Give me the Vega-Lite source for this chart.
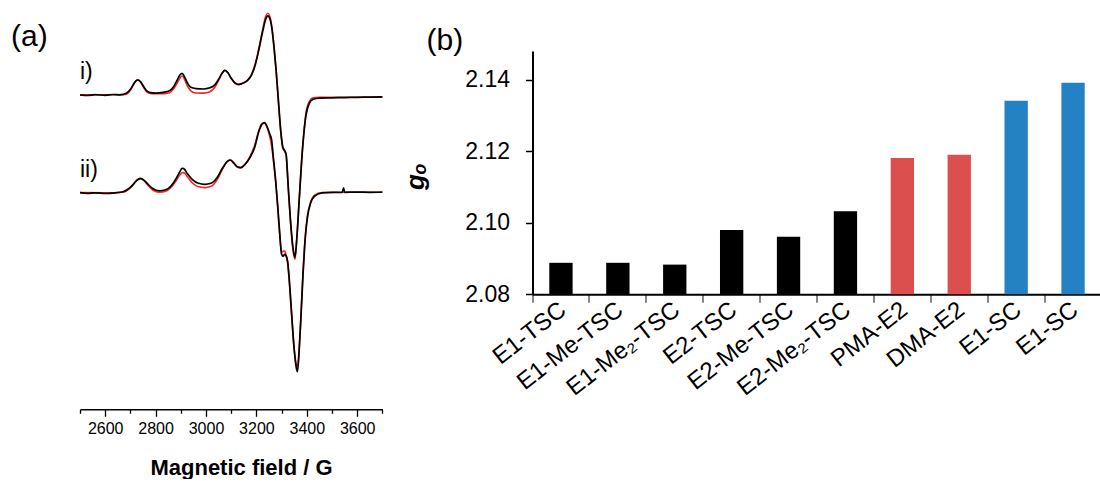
{
 "$schema": "https://vega.github.io/schema/vega-lite/v6.json",
 "background": "white",
 "padding": {"left": 10, "top": 10, "right": 0, "bottom": 0},
 "config": {
  "view": {"stroke": null},
  "font": "Liberation Sans",
  "axis": {"labelColor": "black", "titleColor": "black", "domainColor": "black", "tickColor": "black", "grid": false},
  "title": {"color": "black", "fontWeight": "normal", "fontSize": 30, "anchor": "start", "frame": "group"}
 },
 "datasets": {
  "spectra": [
   {"trace":"i","curve":"experimental","B":2500,"I":314.3},{"trace":"i","curve":"experimental","B":2530,"I":313.8},{"trace":"i","curve":"experimental","B":2560,"I":314.6},{"trace":"i","curve":"experimental","B":2600,"I":314.0},{"trace":"i","curve":"experimental","B":2630,"I":314.8},{"trace":"i","curve":"experimental","B":2660,"I":314.4},{"trace":"i","curve":"experimental","B":2685,"I":316.2},{"trace":"i","curve":"experimental","B":2700,"I":320},{"trace":"i","curve":"experimental","B":2712,"I":325},{"trace":"i","curve":"experimental","B":2722,"I":328.5},{"trace":"i","curve":"experimental","B":2730,"I":329.3},{"trace":"i","curve":"experimental","B":2740,"I":327.5},{"trace":"i","curve":"experimental","B":2752,"I":323},{"trace":"i","curve":"experimental","B":2765,"I":318.5},{"trace":"i","curve":"experimental","B":2780,"I":316.7},{"trace":"i","curve":"experimental","B":2800,"I":316.2},{"trace":"i","curve":"experimental","B":2830,"I":317},{"trace":"i","curve":"experimental","B":2855,"I":318.5},{"trace":"i","curve":"experimental","B":2870,"I":322},{"trace":"i","curve":"experimental","B":2885,"I":329},{"trace":"i","curve":"experimental","B":2897,"I":334.5},{"trace":"i","curve":"experimental","B":2905,"I":336},{"trace":"i","curve":"experimental","B":2915,"I":332.5},{"trace":"i","curve":"experimental","B":2925,"I":327},{"trace":"i","curve":"experimental","B":2940,"I":322},{"trace":"i","curve":"experimental","B":2960,"I":320.7},{"trace":"i","curve":"experimental","B":2990,"I":320.3},{"trace":"i","curve":"experimental","B":3015,"I":321.5},{"trace":"i","curve":"experimental","B":3035,"I":324.5},{"trace":"i","curve":"experimental","B":3050,"I":330},{"trace":"i","curve":"experimental","B":3065,"I":336.5},{"trace":"i","curve":"experimental","B":3075,"I":339},{"trace":"i","curve":"experimental","B":3087,"I":336.5},{"trace":"i","curve":"experimental","B":3100,"I":331},{"trace":"i","curve":"experimental","B":3115,"I":326.5},{"trace":"i","curve":"experimental","B":3130,"I":325},{"trace":"i","curve":"experimental","B":3150,"I":326.5},{"trace":"i","curve":"experimental","B":3165,"I":329},{"trace":"i","curve":"experimental","B":3180,"I":334},{"trace":"i","curve":"experimental","B":3195,"I":344},{"trace":"i","curve":"experimental","B":3210,"I":360},{"trace":"i","curve":"experimental","B":3225,"I":378},{"trace":"i","curve":"experimental","B":3237,"I":390},{"trace":"i","curve":"experimental","B":3245,"I":393.5},{"trace":"i","curve":"experimental","B":3253,"I":391},{"trace":"i","curve":"experimental","B":3262,"I":380},{"trace":"i","curve":"experimental","B":3270,"I":362},{"trace":"i","curve":"experimental","B":3278,"I":340},{"trace":"i","curve":"experimental","B":3287,"I":310},{"trace":"i","curve":"experimental","B":3297,"I":278},{"trace":"i","curve":"experimental","B":3305,"I":262},{"trace":"i","curve":"experimental","B":3312,"I":259},{"trace":"i","curve":"experimental","B":3318,"I":255},{"trace":"i","curve":"experimental","B":3326,"I":224},{"trace":"i","curve":"experimental","B":3335,"I":190},{"trace":"i","curve":"experimental","B":3345,"I":162},{"trace":"i","curve":"experimental","B":3353,"I":152},{"trace":"i","curve":"experimental","B":3360,"I":170},{"trace":"i","curve":"experimental","B":3370,"I":210},{"trace":"i","curve":"experimental","B":3383,"I":260},{"trace":"i","curve":"experimental","B":3396,"I":293},{"trace":"i","curve":"experimental","B":3410,"I":306},{"trace":"i","curve":"experimental","B":3425,"I":310},{"trace":"i","curve":"experimental","B":3450,"I":311.2},{"trace":"i","curve":"experimental","B":3500,"I":311.5},{"trace":"i","curve":"experimental","B":3550,"I":311.7},{"trace":"i","curve":"experimental","B":3600,"I":312},{"trace":"i","curve":"experimental","B":3650,"I":312.2},{"trace":"i","curve":"experimental","B":3700,"I":312.5},
   {"trace":"i","curve":"simulated","B":2500,"I":314.5},{"trace":"i","curve":"simulated","B":2600,"I":314.5},{"trace":"i","curve":"simulated","B":2680,"I":314.8},{"trace":"i","curve":"simulated","B":2700,"I":319},{"trace":"i","curve":"simulated","B":2712,"I":324.5},{"trace":"i","curve":"simulated","B":2722,"I":328.5},{"trace":"i","curve":"simulated","B":2730,"I":329.5},{"trace":"i","curve":"simulated","B":2740,"I":327.5},{"trace":"i","curve":"simulated","B":2752,"I":322},{"trace":"i","curve":"simulated","B":2765,"I":317.5},{"trace":"i","curve":"simulated","B":2780,"I":315.8},{"trace":"i","curve":"simulated","B":2800,"I":315.5},{"trace":"i","curve":"simulated","B":2830,"I":315.6},{"trace":"i","curve":"simulated","B":2855,"I":316.5},{"trace":"i","curve":"simulated","B":2870,"I":320},{"trace":"i","curve":"simulated","B":2885,"I":326},{"trace":"i","curve":"simulated","B":2897,"I":331.5},{"trace":"i","curve":"simulated","B":2905,"I":333.3},{"trace":"i","curve":"simulated","B":2915,"I":330},{"trace":"i","curve":"simulated","B":2925,"I":324},{"trace":"i","curve":"simulated","B":2940,"I":318.5},{"trace":"i","curve":"simulated","B":2960,"I":316.3},{"trace":"i","curve":"simulated","B":2990,"I":316.2},{"trace":"i","curve":"simulated","B":3015,"I":317.5},{"trace":"i","curve":"simulated","B":3035,"I":322},{"trace":"i","curve":"simulated","B":3050,"I":329},{"trace":"i","curve":"simulated","B":3065,"I":336.5},{"trace":"i","curve":"simulated","B":3075,"I":339},{"trace":"i","curve":"simulated","B":3087,"I":336.5},{"trace":"i","curve":"simulated","B":3100,"I":331},{"trace":"i","curve":"simulated","B":3115,"I":326},{"trace":"i","curve":"simulated","B":3130,"I":324.5},{"trace":"i","curve":"simulated","B":3150,"I":326.5},{"trace":"i","curve":"simulated","B":3165,"I":329},{"trace":"i","curve":"simulated","B":3180,"I":334.5},{"trace":"i","curve":"simulated","B":3195,"I":345},{"trace":"i","curve":"simulated","B":3210,"I":361},{"trace":"i","curve":"simulated","B":3225,"I":380},{"trace":"i","curve":"simulated","B":3237,"I":393},{"trace":"i","curve":"simulated","B":3245,"I":396},{"trace":"i","curve":"simulated","B":3253,"I":393},{"trace":"i","curve":"simulated","B":3262,"I":381},{"trace":"i","curve":"simulated","B":3270,"I":362},{"trace":"i","curve":"simulated","B":3278,"I":339},{"trace":"i","curve":"simulated","B":3287,"I":308},{"trace":"i","curve":"simulated","B":3297,"I":276},{"trace":"i","curve":"simulated","B":3305,"I":261},{"trace":"i","curve":"simulated","B":3312,"I":258},{"trace":"i","curve":"simulated","B":3318,"I":254},{"trace":"i","curve":"simulated","B":3326,"I":223},{"trace":"i","curve":"simulated","B":3335,"I":188},{"trace":"i","curve":"simulated","B":3345,"I":160},{"trace":"i","curve":"simulated","B":3353,"I":150},{"trace":"i","curve":"simulated","B":3360,"I":169},{"trace":"i","curve":"simulated","B":3370,"I":210},{"trace":"i","curve":"simulated","B":3383,"I":261},{"trace":"i","curve":"simulated","B":3396,"I":295},{"trace":"i","curve":"simulated","B":3410,"I":308},{"trace":"i","curve":"simulated","B":3425,"I":311.5},{"trace":"i","curve":"simulated","B":3450,"I":312},{"trace":"i","curve":"simulated","B":3550,"I":312},{"trace":"i","curve":"simulated","B":3700,"I":312},
   {"trace":"ii","curve":"experimental","B":2500,"I":216.7},{"trace":"ii","curve":"experimental","B":2530,"I":216},{"trace":"ii","curve":"experimental","B":2560,"I":216.5},{"trace":"ii","curve":"experimental","B":2600,"I":215.8},{"trace":"ii","curve":"experimental","B":2640,"I":216.5},{"trace":"ii","curve":"experimental","B":2670,"I":217.5},{"trace":"ii","curve":"experimental","B":2690,"I":220},{"trace":"ii","curve":"experimental","B":2710,"I":224.5},{"trace":"ii","curve":"experimental","B":2725,"I":229},{"trace":"ii","curve":"experimental","B":2740,"I":231},{"trace":"ii","curve":"experimental","B":2755,"I":229},{"trace":"ii","curve":"experimental","B":2770,"I":225},{"trace":"ii","curve":"experimental","B":2790,"I":220.5},{"trace":"ii","curve":"experimental","B":2815,"I":218.5},{"trace":"ii","curve":"experimental","B":2840,"I":219.5},{"trace":"ii","curve":"experimental","B":2860,"I":223},{"trace":"ii","curve":"experimental","B":2880,"I":230},{"trace":"ii","curve":"experimental","B":2895,"I":237},{"trace":"ii","curve":"experimental","B":2905,"I":241},{"trace":"ii","curve":"experimental","B":2912,"I":240.7},{"trace":"ii","curve":"experimental","B":2925,"I":236},{"trace":"ii","curve":"experimental","B":2945,"I":230},{"trace":"ii","curve":"experimental","B":2970,"I":226},{"trace":"ii","curve":"experimental","B":2995,"I":225},{"trace":"ii","curve":"experimental","B":3020,"I":226},{"trace":"ii","curve":"experimental","B":3045,"I":232},{"trace":"ii","curve":"experimental","B":3065,"I":241},{"trace":"ii","curve":"experimental","B":3085,"I":248},{"trace":"ii","curve":"experimental","B":3097,"I":249.3},{"trace":"ii","curve":"experimental","B":3110,"I":246.5},{"trace":"ii","curve":"experimental","B":3125,"I":242.5},{"trace":"ii","curve":"experimental","B":3138,"I":241.7},{"trace":"ii","curve":"experimental","B":3155,"I":245},{"trace":"ii","curve":"experimental","B":3175,"I":252},{"trace":"ii","curve":"experimental","B":3192,"I":261},{"trace":"ii","curve":"experimental","B":3210,"I":278},{"trace":"ii","curve":"experimental","B":3222,"I":285},{"trace":"ii","curve":"experimental","B":3232,"I":286.7},{"trace":"ii","curve":"experimental","B":3242,"I":283},{"trace":"ii","curve":"experimental","B":3252,"I":276},{"trace":"ii","curve":"experimental","B":3260,"I":270},{"trace":"ii","curve":"experimental","B":3268,"I":250},{"trace":"ii","curve":"experimental","B":3277,"I":227},{"trace":"ii","curve":"experimental","B":3285,"I":202},{"trace":"ii","curve":"experimental","B":3292,"I":178},{"trace":"ii","curve":"experimental","B":3300,"I":155},{"trace":"ii","curve":"experimental","B":3306,"I":153},{"trace":"ii","curve":"experimental","B":3312,"I":155},{"trace":"ii","curve":"experimental","B":3318,"I":153.5},{"trace":"ii","curve":"experimental","B":3324,"I":148},{"trace":"ii","curve":"experimental","B":3332,"I":125},{"trace":"ii","curve":"experimental","B":3340,"I":95},{"trace":"ii","curve":"experimental","B":3350,"I":60},{"trace":"ii","curve":"experimental","B":3358,"I":42},{"trace":"ii","curve":"experimental","B":3363,"I":37.7},{"trace":"ii","curve":"experimental","B":3370,"I":60},{"trace":"ii","curve":"experimental","B":3377,"I":93.3},{"trace":"ii","curve":"experimental","B":3385,"I":135},{"trace":"ii","curve":"experimental","B":3392,"I":165},{"trace":"ii","curve":"experimental","B":3403,"I":193},{"trace":"ii","curve":"experimental","B":3415,"I":206},{"trace":"ii","curve":"experimental","B":3430,"I":213},{"trace":"ii","curve":"experimental","B":3460,"I":216.5},{"trace":"ii","curve":"experimental","B":3500,"I":217},{"trace":"ii","curve":"experimental","B":3540,"I":216.8},{"trace":"ii","curve":"experimental","B":3546,"I":221.5},{"trace":"ii","curve":"experimental","B":3550,"I":217},{"trace":"ii","curve":"experimental","B":3600,"I":217.2},{"trace":"ii","curve":"experimental","B":3650,"I":217},{"trace":"ii","curve":"experimental","B":3700,"I":217.3},
   {"trace":"ii","curve":"simulated","B":2500,"I":216.7},{"trace":"ii","curve":"simulated","B":2600,"I":216.5},{"trace":"ii","curve":"simulated","B":2670,"I":217},{"trace":"ii","curve":"simulated","B":2690,"I":219.5},{"trace":"ii","curve":"simulated","B":2710,"I":224.5},{"trace":"ii","curve":"simulated","B":2725,"I":229},{"trace":"ii","curve":"simulated","B":2740,"I":230.5},{"trace":"ii","curve":"simulated","B":2755,"I":228.5},{"trace":"ii","curve":"simulated","B":2770,"I":224},{"trace":"ii","curve":"simulated","B":2790,"I":219},{"trace":"ii","curve":"simulated","B":2815,"I":217},{"trace":"ii","curve":"simulated","B":2840,"I":218},{"trace":"ii","curve":"simulated","B":2860,"I":221.5},{"trace":"ii","curve":"simulated","B":2880,"I":228},{"trace":"ii","curve":"simulated","B":2895,"I":234},{"trace":"ii","curve":"simulated","B":2905,"I":236.5},{"trace":"ii","curve":"simulated","B":2912,"I":236.7},{"trace":"ii","curve":"simulated","B":2925,"I":233},{"trace":"ii","curve":"simulated","B":2945,"I":226.5},{"trace":"ii","curve":"simulated","B":2970,"I":222.5},{"trace":"ii","curve":"simulated","B":2995,"I":221.7},{"trace":"ii","curve":"simulated","B":3020,"I":223},{"trace":"ii","curve":"simulated","B":3045,"I":230},{"trace":"ii","curve":"simulated","B":3065,"I":240},{"trace":"ii","curve":"simulated","B":3085,"I":248},{"trace":"ii","curve":"simulated","B":3097,"I":249},{"trace":"ii","curve":"simulated","B":3110,"I":246},{"trace":"ii","curve":"simulated","B":3125,"I":242},{"trace":"ii","curve":"simulated","B":3138,"I":241.5},{"trace":"ii","curve":"simulated","B":3155,"I":245},{"trace":"ii","curve":"simulated","B":3175,"I":253},{"trace":"ii","curve":"simulated","B":3192,"I":263},{"trace":"ii","curve":"simulated","B":3210,"I":279},{"trace":"ii","curve":"simulated","B":3222,"I":285.5},{"trace":"ii","curve":"simulated","B":3232,"I":286},{"trace":"ii","curve":"simulated","B":3242,"I":282},{"trace":"ii","curve":"simulated","B":3252,"I":274},{"trace":"ii","curve":"simulated","B":3260,"I":264},{"trace":"ii","curve":"simulated","B":3268,"I":248},{"trace":"ii","curve":"simulated","B":3277,"I":226},{"trace":"ii","curve":"simulated","B":3285,"I":200},{"trace":"ii","curve":"simulated","B":3292,"I":176},{"trace":"ii","curve":"simulated","B":3300,"I":157},{"trace":"ii","curve":"simulated","B":3306,"I":158},{"trace":"ii","curve":"simulated","B":3312,"I":158.3},{"trace":"ii","curve":"simulated","B":3318,"I":154},{"trace":"ii","curve":"simulated","B":3324,"I":146},{"trace":"ii","curve":"simulated","B":3332,"I":122},{"trace":"ii","curve":"simulated","B":3340,"I":93},{"trace":"ii","curve":"simulated","B":3350,"I":60},{"trace":"ii","curve":"simulated","B":3358,"I":45},{"trace":"ii","curve":"simulated","B":3363,"I":43.3},{"trace":"ii","curve":"simulated","B":3370,"I":62},{"trace":"ii","curve":"simulated","B":3377,"I":95},{"trace":"ii","curve":"simulated","B":3385,"I":137},{"trace":"ii","curve":"simulated","B":3392,"I":167},{"trace":"ii","curve":"simulated","B":3403,"I":194},{"trace":"ii","curve":"simulated","B":3415,"I":207},{"trace":"ii","curve":"simulated","B":3430,"I":214},{"trace":"ii","curve":"simulated","B":3460,"I":216.8},{"trace":"ii","curve":"simulated","B":3550,"I":217},{"trace":"ii","curve":"simulated","B":3700,"I":217}
  ],
  "panellabels": [
   {"label": "(a)", "B": 2226, "I": 363.3, "size": "panel"},
   {"label": "i)", "B": 2500, "I": 330, "size": "trace"},
   {"label": "ii)", "B": 2500, "I": 232, "size": "trace"}
  ],
  "gvalues": [
   {"compound": "E1-TSC", "g": 2.0888, "family": "TSC"},
   {"compound": "E1-Me-TSC", "g": 2.0888, "family": "TSC"},
   {"compound": "E1-Me₂-TSC", "g": 2.0883, "family": "TSC"},
   {"compound": "E2-TSC", "g": 2.0980, "family": "TSC"},
   {"compound": "E2-Me-TSC", "g": 2.0961, "family": "TSC"},
   {"compound": "E2-Me₂-TSC", "g": 2.1032, "family": "TSC"},
   {"compound": "PMA-E2", "g": 2.1181, "family": "MA"},
   {"compound": "DMA-E2", "g": 2.1190, "family": "MA"},
   {"compound": "E1-SC", "g": 2.1341, "family": "SC"},
   {"compound": "E1-SC\u200b", "g": 2.1391, "family": "SC"}
  ]
 },
 "spacing": 149.5,
 "bounds": "flush",
 "hconcat": [
  {
   "width": 302.4,
   "height": 358.3,
   "resolve": {"axis": {"x": "independent"}},
   "layer": [
    {
     "data": {"name": "spectra"},
     "transform": [{"filter": "datum.curve == 'simulated'"}],
     "mark": {"type": "line", "color": "#ff1f1f", "strokeWidth": 1.6, "interpolate": "monotone"},
     "encoding": {
      "x": {"field": "B", "type": "quantitative", "scale": {"domain": [2500, 3700], "nice": false, "zero": false},
        "axis": {"orient": "bottom", "title": "Magnetic field / G", "values": [2600,2800,3000,3200,3400,3600],
          "format": "d", "labelFontSize": 16, "labelPadding": 4, "labelFlush": false,
          "tickSize": 7, "tickWidth": 1.3, "domainWidth": 1.6,
          "titleFontSize": 22, "titleFontWeight": "bold", "titleX": 161, "titleY": 65, "titleAlign": "center", "titleBaseline": "alphabetic"}},
      "y": {"field": "I", "type": "quantitative", "scale": {"domain": [0, 358.3], "nice": false, "zero": false}, "axis": null},
      "detail": {"field": "trace"}
     }
    },
    {
     "data": {"name": "spectra"},
     "transform": [{"filter": "datum.curve == 'experimental'"}],
     "mark": {"type": "line", "color": "#000000", "strokeWidth": 1.7, "interpolate": "monotone"},
     "encoding": {
      "x": {"field": "B", "type": "quantitative", "scale": {"domain": [2500, 3700], "nice": false, "zero": false},
        "axis": {"orient": "bottom", "title": null, "values": [2500,2700,2900,3100,3300,3500,3700], "labels": false, "domain": false,
          "tickSize": 4, "tickWidth": 1.3}},
      "y": {"field": "I", "type": "quantitative", "scale": {"domain": [0, 358.3], "nice": false, "zero": false}, "axis": null},
      "detail": {"field": "trace"}
     }
    },
    {
     "data": {"name": "panellabels"},
     "mark": {"type": "text", "align": "left", "baseline": "alphabetic", "color": "black"},
     "encoding": {
      "x": {"field": "B", "type": "quantitative", "scale": {"domain": [2500, 3700], "nice": false, "zero": false}, "axis": null},
      "y": {"field": "I", "type": "quantitative", "scale": {"domain": [0, 358.3], "nice": false, "zero": false}, "axis": null},
      "text": {"field": "label"},
      "size": {"field": "size", "type": "nominal", "scale": {"domain": ["panel", "trace"], "range": [30, 23]}, "legend": null}
     }
    }
   ]
  },
  {
   "width": 569,
   "height": 243.3,
   "title": {"text": "(b)", "dx": -106, "offset": -5},
   "data": {"name": "gvalues"},
   "mark": {"type": "bar", "width": {"band": 0.41}},
   "encoding": {
    "x": {"field": "compound", "type": "nominal", "sort": null,
      "scale": {"paddingInner": 0, "paddingOuter": 0},
      "axis": {"title": null, "labelAngle": -38, "labelAlign": "right", "labelBaseline": "top", "labelFontSize": 24, "bandPosition": 0, "labelOffset": -5, "labelPadding": -5,
        "labelOverlap": false, "tickSize": 8, "tickWidth": 1.2, "tickColor": "#333333", "domainWidth": 2,
        "encode": {"labels": {"update": {"fill": {"signal": "indexof(datum.value, '-SC') >= 0 ? '#2481c3' : (indexof(datum.value, 'MA-') >= 0 ? '#dc4f4f' : '#000000')"}}}}}},
    "y": {"field": "g", "type": "quantitative",
      "scale": {"domain": [2.08, 2.148], "nice": false, "zero": false},
      "axis": {"title": "gₒ", "values": [2.08, 2.10, 2.12, 2.14], "format": ".2f", "labelFontSize": 23, "labelPadding": 16,
        "tickSize": 7, "tickWidth": 1.5, "domainWidth": 2,
        "titleFontSize": 26, "titleFontWeight": "bold", "titleFontStyle": "italic",
        "titleX": -117, "titleY": 125, "titleAlign": "center", "titleBaseline": "middle", "titleAngle": -90}},
    "y2": {"datum": 2.08},
    "color": {"field": "family", "type": "nominal", "scale": {"domain": ["TSC", "MA", "SC"], "range": ["#000000", "#dc4f4f", "#2481c3"]}, "legend": null}
   }
  }
 ]
}
